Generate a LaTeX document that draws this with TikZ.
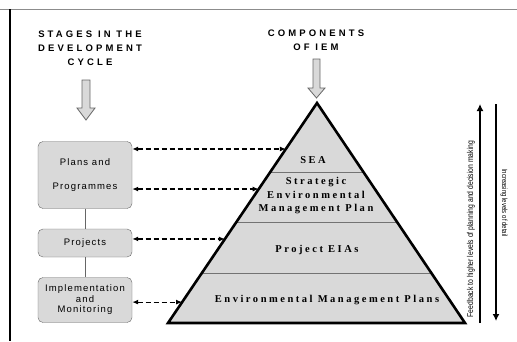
\documentclass[tikz,border=0pt]{standalone}
\usepackage{fontspec}
\setmainfont{Liberation Serif}
\newfontfamily\headfont[LetterSpace=33]{Liberation Sans}
\newfontfamily\boxfont[LetterSpace=12]{Liberation Sans}
\newfontfamily\layerfont[LetterSpace=24]{Liberation Serif}
\newfontfamily\sidefont[FakeStretch=0.8]{Liberation Sans}
\usetikzlibrary{arrows.meta,calc}

\begin{document}
\begin{tikzpicture}[x=1pt,y=-1pt,
    heading/.style={align=center,font=\headfont\bfseries\fontsize{9.5}{14}\selectfont},
    stagebox/.style={draw=black!60,fill=black!15,rounded corners=5pt,minimum width=94pt,
                     align=center,inner sep=0pt,font=\boxfont\fontsize{9.5}{10.5}\selectfont},
    layer/.style={align=center,font=\layerfont\bfseries\fontsize{10.5}{13.5}\selectfont},
    dasharrow/.style={line width=1.2pt,dash pattern=on 5pt off 3pt,
                      {Latex[length=6pt,width=5pt]}-{Latex[length=6pt,width=5pt]}},
    hollow/.style={draw=black!60,fill=black!15,line width=0.8pt},
    sidetext/.style={font=\sidefont\fontsize{8.5}{9}\selectfont,inner sep=0pt}]
\useasboundingbox (0,0) rectangle (517,341);

\draw[black!45,line width=1pt] (0,9) -- (517,9);
\draw[line width=2pt] (10,9) -- (10,341);

\node[heading] (stages)     at ( 90,48) {STAGES IN THE\\DEVELOPMENT\\CYCLE};
\node[heading] (components) at (316,40) {COMPONENTS\\OF IEM};

\draw[hollow] (82,80) -- (90,80) -- (90,108) -- (95,108) -- (86,120) -- (77,108) -- (82,108) -- cycle;
\draw[hollow] (313,59) -- (320,59) -- (320,88) -- (325,88) -- (316.5,98) -- (308,88) -- (313,88) -- cycle;

\node[stagebox,minimum height=67pt] (plans)    at (85,175) {Plans and\\[13pt]Programmes};
\node[stagebox,minimum height=28pt] (projects) at (85,243) {Projects};
\node[stagebox,minimum height=45pt] (impl)     at (85,300) {Implementation\\and\\Monitoring};
\draw[black!60,line width=0.8pt] (plans) -- (projects);
\draw[black!60,line width=0.8pt] (projects) -- (impl);

\coordinate (apex) at (317,103);
\coordinate (bl)   at (168,323);
\coordinate (br)   at (465,323);
\fill[black!15] (apex) -- (bl) -- (br) -- cycle;
\draw[black!55,line width=0.8pt] ($(apex)!0.314!(bl)$) -- ($(apex)!0.314!(br)$);
\draw[black!55,line width=0.8pt] ($(apex)!0.541!(bl)$) -- ($(apex)!0.541!(br)$);
\draw[black!55,line width=0.8pt] ($(apex)!0.773!(bl)$) -- ($(apex)!0.773!(br)$);
\draw[line width=2.6pt,line join=miter] (apex) -- (bl) -- (br) -- cycle;

\node[layer] (sea)       at (313,160) {SEA};
\node[layer] (semp)      at (316,196) {Strategic\\Environmental\\Management Plan};
\node[layer] (eias)      at (317,250) {Project EIAs};
\node[layer] (emp)       at (327,300) {Environmental Management Plans};

\coordinate (e1) at ($(apex)!0.209!(bl)$);
\coordinate (e2) at ($(apex)!0.391!(bl)$);
\coordinate (e3) at ($(apex)!0.618!(bl)$);
\coordinate (e4) at ($(apex)!0.905!(bl)$);
\draw[dasharrow] (e1 -| plans.east)    -- (e1);
\draw[dasharrow] (e2 -| plans.east)    -- (e2);
\draw[dasharrow] (e3 -| projects.east) -- (e3);
\draw[dasharrow] (e4 -| impl.east)     -- (e4);

\coordinate (uplow)  at (480,323);
\coordinate (uphigh) at (480,104);
\coordinate (dnhigh) at (496,104);
\coordinate (dnlow)  at (496,321);
\draw[line width=2.2pt,-{Latex[length=7pt,width=7pt]}] (uplow) -- (uphigh);
\draw[line width=2.2pt,-{Latex[length=7pt,width=7pt]}] (dnhigh) -- (dnlow);
\node[sidetext,rotate=90]  (feedback) at (471,229) {Feedback to higher levels of planning and decision making};
\node[sidetext,rotate=-90,font=\sidefont\fontsize{7.5}{8}\selectfont] (detail) at (504,203) {Increasing levels of detail};
\end{tikzpicture}
\end{document}
